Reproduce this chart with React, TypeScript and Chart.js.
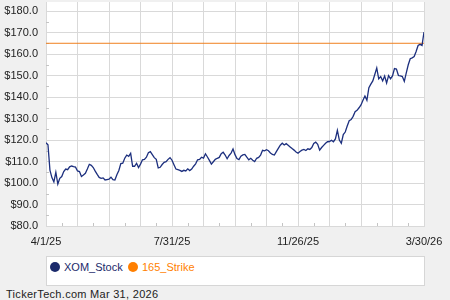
import React, { useEffect, useRef } from "react";
import { Chart, registerables } from "chart.js";

Chart.register(...registerables);

const xTickLabels = ["4/1/25", "7/31/25", "11/26/25", "3/30/26"];
const yTickValues = [80, 90, 100, 110, 120, 130, 140, 150, 160, 170, 180];
const seriesNames = ["XOM_Stock", "165_Strike"];
const seriesColors = ["#1c2f7e", "#f0801e"];
const strikePrice = 165;
const footerSite = "TickerTech.com";
const footerDate = "Mar 31, 2026";

const stockPrices = [
  118.7, 117.8, 106, 102.5, 100.5, 105, 99.5, 102.2, 103, 105.3,
  106.5, 106.2, 107.5, 107.9, 107.6, 107.4, 105.6, 105.3, 103, 103.7,
  104.5, 106.5, 108.7, 108.2, 107.2, 105.5, 104, 102.6, 102.2, 102.4,
  101.4, 101.6, 101.8, 102.7, 101.6, 101.4, 103.8, 105.8, 109, 109.2,
  111.5, 113, 112.4, 113.8, 107.8, 107.8, 109.2, 107.2, 108.8, 110.8,
  111, 112, 114.1, 114.6, 113.2, 111.8, 111, 107, 107.3, 108.6,
  109.6, 109.9, 111, 111.8, 110.6, 108.5, 106.5, 106.2, 105.9, 105.4,
  105.9, 105.6, 106.6, 105.8, 106.5, 107.8, 108.9, 110.8, 111, 112,
  111.6, 113.6, 112.1, 110.5, 108.8, 109.9, 111, 111.5, 111.9, 113.6,
  114.3, 113, 111.3, 112.8, 113.9, 115.8, 113.2, 111.4, 110.9, 112.5,
  113.1, 113.3, 112, 110.8, 111.5, 110.6, 110, 111.5, 111.9, 113,
  115.2, 115, 115.5, 115, 114, 113.3, 113, 114.6, 116.1, 117.6,
  118.5, 117.7, 118.3, 117.6, 116.8, 116, 115.3, 114.4, 113.9, 114.7,
  115.3, 115.6, 115.1, 115.9, 115.6, 116.5, 118.4, 119, 118, 115.3,
  116.5, 117.5, 118.5, 119.2, 119.3, 119.9, 119.2, 120.5, 124.5, 120,
  118.5, 122.5, 123.7, 126.5, 129, 129.5, 131, 133.2, 133.8, 135,
  136.3, 138.5, 140.5, 138.5, 144.3, 146, 147.5, 150.5, 153.5, 148.5,
  149.5, 147.5, 149.8, 146.5, 150, 148.5, 149.8, 153.2, 153, 150,
  149.8, 149.5, 147.3, 151.2, 155, 157.8, 158.2, 158.8, 161.2, 164,
  164.5, 164, 170.2,
];

const lastIdx = stockPrices.length - 1;
const gridCount = 12;
const gridIdx = Array.from({ length: gridCount + 1 }, (_, k) => (k * lastIdx) / gridCount);
const labelIdx = [0, 4, 8, 12].map((k) => gridIdx[k]);
const gridColor = "#d9d9d9";
const fontFamily = "'Liberation Sans', Arial, sans-serif";

const plotBgPlugin = {
  id: "plotBg",
  beforeDraw(chart: any) {
    const { ctx, chartArea: a } = chart;
    ctx.save();
    ctx.fillStyle = "#ffffff";
    ctx.fillRect(a.left, a.top, a.right - a.left, a.bottom - a.top);
    ctx.restore();
  },
};

const minorTicksPlugin = {
  id: "minorTicks",
  beforeDatasetsDraw(chart: any) {
    const { ctx, chartArea: a, scales } = chart;
    ctx.save();
    ctx.strokeStyle = "#c4c4c4";
    ctx.lineWidth = 1;
    ctx.beginPath();
    for (let i = 0; i < yTickValues.length - 1; i++) {
      const v = (yTickValues[i] + yTickValues[i + 1]) / 2;
      const py = Math.round(scales.y.getPixelForValue(v)) + 0.5;
      ctx.moveTo(a.left, py);
      ctx.lineTo(a.left + 3, py);
    }
    for (let i = 0; i < gridIdx.length - 1; i++) {
      const m = (gridIdx[i] + gridIdx[i + 1]) / 2;
      const px = Math.round(scales.x.getPixelForValue(m)) + 0.5;
      ctx.moveTo(px, a.bottom);
      ctx.lineTo(px, a.bottom - 3);
    }
    ctx.stroke();
    ctx.restore();
  },
};

export default function App() {
  const ref = useRef<HTMLCanvasElement>(null);

  useEffect(() => {
    const canvas = ref.current;
    if (!canvas) return;
    const chart = new Chart(canvas, {
      type: "line",
      data: {
        datasets: [
          {
            label: seriesNames[0],
            data: stockPrices.map((v, i) => ({ x: i, y: v })),
            borderColor: seriesColors[0],
            borderWidth: 1.3,
            pointRadius: 0,
            tension: 0,
          },
          {
            label: seriesNames[1],
            data: [
              { x: 0, y: strikePrice },
              { x: lastIdx, y: strikePrice },
            ],
            borderColor: seriesColors[1],
            borderWidth: 1,
            pointRadius: 0,
          },
        ],
      },
      options: {
        responsive: false,
        maintainAspectRatio: false,
        animation: false,
        layout: { padding: { left: 0, right: 26, top: 2, bottom: 0 } },
        plugins: { legend: { display: false }, tooltip: { enabled: false } },
        scales: {
          x: {
            type: "linear",
            min: 0,
            max: lastIdx,
            afterBuildTicks: (s: any) => {
              s.ticks = gridIdx.map((v) => ({ value: v }));
            },
            afterFit: (s: any) => {
              s.height = 24;
              s.paddingLeft = 0;
              s.paddingRight = 0;
            },
            grid: { color: gridColor, drawTicks: false },
            border: { color: gridColor },
            ticks: {
              autoSkip: false,
              maxRotation: 0,
              padding: 9,
              color: "#222",
              font: { size: 11, family: fontFamily },
              callback: (v: any) => {
                const k = labelIdx.findIndex((l) => Math.abs(l - Number(v)) < 0.01);
                return k >= 0 ? xTickLabels[k] : "";
              },
            },
          },
          y: {
            type: "linear",
            min: 80,
            max: 184.2,
            afterBuildTicks: (s: any) => {
              s.ticks = yTickValues.map((v) => ({ value: v }));
            },
            afterFit: (s: any) => {
              s.width = 46;
              s.paddingTop = 0;
              s.paddingBottom = 0;
            },
            grid: { color: gridColor, drawTicks: false },
            border: { color: gridColor },
            ticks: {
              padding: 8,
              color: "#222",
              font: { size: 11, family: fontFamily },
              callback: (v: any) => "$" + Number(v).toFixed(1),
            },
          },
        },
      },
      plugins: [plotBgPlugin, minorTicksPlugin],
    } as any);
    return () => chart.destroy();
  }, []);

  const legendX = [50, 128];
  return (
    <div
      style={{
        position: "fixed",
        left: 0,
        top: 0,
        width: 450,
        height: 300,
        background: "#f0f0f0",
        fontFamily,
        overflow: "hidden",
      }}
    >
      <canvas ref={ref} width={450} height={250} style={{ position: "absolute", left: 0, top: 0, display: "block" }} />
      <div
        style={{
          position: "absolute",
          left: 46,
          top: 256,
          width: 379,
          height: 30,
          boxSizing: "border-box",
          background: "#fff",
          border: "1px solid #d6d6d6",
        }}
      />
      {seriesNames.map((name, i) => (
        <div
          key={name}
          style={{
            position: "absolute",
            left: legendX[i],
            top: 259,
            height: 16,
            display: "flex",
            alignItems: "center",
            fontSize: 11,
            color: i === 0 ? "#1b2a6b" : "#ff7f00",
            whiteSpace: "nowrap",
          }}
        >
          <span
            style={{
              display: "inline-block",
              width: 10,
              height: 10,
              borderRadius: 5,
              background: i === 0 ? "#1b2a6b" : "#ff7f00",
              marginRight: 4,
            }}
          />
          {name}
        </div>
      ))}
      <div style={{ position: "absolute", left: 6, top: 288, fontSize: 11, color: "#222", whiteSpace: "nowrap", letterSpacing: 0.3 }}>
        {footerSite}
      </div>
      <div style={{ position: "absolute", left: 90, top: 288, fontSize: 11, color: "#222", whiteSpace: "nowrap", letterSpacing: 0.3 }}>
        {footerDate}
      </div>
    </div>
  );
}
